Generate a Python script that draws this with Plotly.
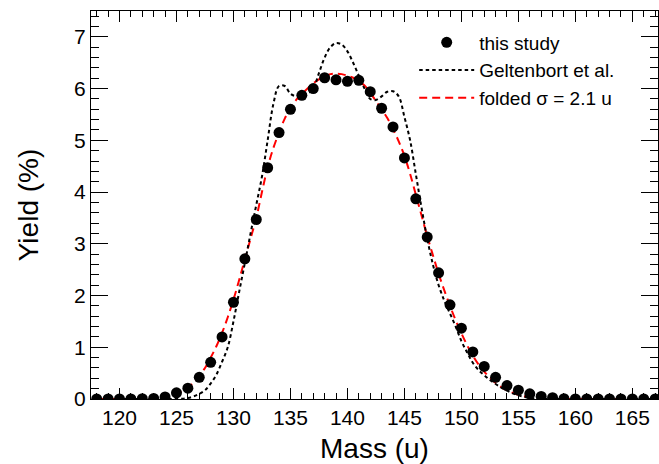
import plotly.graph_objects as go

# this study (data points)
mass_pts = list(range(118, 168))
yield_pts = [0.0, 0.0, 0.0, 0.0, 0.005, 0.01, 0.04, 0.12, 0.21, 0.42,
             0.71, 1.20, 1.87, 2.71, 3.47, 4.47, 5.15, 5.60, 5.87, 6.00,
             6.21, 6.17, 6.14, 6.16, 5.94, 5.62, 5.26, 4.66, 3.87, 3.13,
             2.44, 1.82, 1.37, 0.91, 0.63, 0.42, 0.26, 0.17, 0.10, 0.05,
             0.025, 0.005, 0.0, 0.0, 0.0, 0.0, 0.0, 0.0, 0.0, 0.0]

# Geltenbort et al. (0.5 u grid)
mass_gel = [118 + 0.5 * i for i in range(99)]
yield_gel = [0.0] * 14 + [
    0.0, 0.005, 0.02, 0.05, 0.1, 0.17, 0.3, 0.47, 0.72, 1.0,       # 125-129.5
    1.5, 2.07, 2.63, 3.2, 3.75, 4.3, 5.0, 5.7, 6.05, 6.05,          # 130-134.5
    5.9, 5.85, 5.86, 5.9, 6.0, 6.3, 6.6, 6.8, 6.88, 6.85,           # 135-139.5
    6.72, 6.5, 6.25, 6.0, 5.8, 5.78, 5.85, 5.94, 5.95, 5.85,        # 140-144.5
    5.45, 5.0, 4.35, 3.7, 3.1, 2.6, 2.2, 1.9, 1.65, 1.4,            # 145-149.5
    1.12, 0.9, 0.7, 0.56, 0.46, 0.37, 0.29, 0.22, 0.16, 0.11,       # 150-154.5
    0.07, 0.04, 0.02, 0.01, 0.0] + [0.0] * 20

# folded sigma = 2.1 u (0.5 u grid)
mass_fold = [118 + 0.5 * i for i in range(99)]
yield_fold = [0.0] * 11 + [
    0.01, 0.03, 0.06, 0.1, 0.15, 0.22, 0.32, 0.45, 0.6, 0.8,        # 123.5-128
    1.02, 1.28, 1.58, 1.92, 2.3, 2.7, 3.1, 3.5, 4.0, 4.48,          # 128.5-133
    4.85, 5.15, 5.42, 5.62, 5.78, 5.9, 6.0, 6.1, 6.18, 6.24,        # 133.5-138
    6.28, 6.29, 6.28, 6.25, 6.21, 6.14, 6.06, 5.92, 5.76, 5.6,      # 138.5-143
    5.43, 5.22, 4.98, 4.7, 4.35, 3.95, 3.55, 3.15, 2.78, 2.42,      # 143.5-148
    2.1, 1.8, 1.52, 1.27, 1.04, 0.84, 0.67, 0.53, 0.41, 0.31,       # 148.5-153
    0.23, 0.17, 0.12, 0.08, 0.055, 0.035, 0.02, 0.012, 0.005, 0.0] + [0.0] * 18

FONT = "Liberation Sans, Arial, Helvetica, sans-serif"

fig = go.Figure()
fig.add_trace(go.Scatter(x=mass_fold, y=yield_fold, mode="lines", name="folded σ = 2.1 u",
                         line=dict(color="#ff0000", width=2, dash="8px,5px", shape="spline")))
fig.add_trace(go.Scatter(x=mass_gel, y=yield_gel, mode="lines", name="Geltenbort et al.",
                         line=dict(color="black", width=2, dash="3.5px,3px", shape="spline")))
fig.add_trace(go.Scatter(x=mass_pts, y=yield_pts, mode="markers", name="this study",
                         marker=dict(color="black", size=11, symbol="circle")))

fig.update_layout(
    width=659, height=464,
    margin=dict(l=91, r=1, t=11, b=65),
    paper_bgcolor="white", plot_bgcolor="white",
    font=dict(family=FONT, color="black"),
    showlegend=True,
    legend=dict(x=0.57, y=0.968, xanchor="left", yanchor="top",
                traceorder="reversed", font=dict(size=19, family=FONT),
                bgcolor="rgba(0,0,0,0)", itemwidth=55, tracegroupgap=0),
    xaxis=dict(range=[117.5, 167.25], showline=True, linecolor="black", linewidth=1,
               mirror="ticks", ticks="inside", ticklen=11, tickcolor="black",
               dtick=5, tick0=120, showgrid=False, zeroline=False, automargin=False,
               tickfont=dict(size=21, family=FONT),
               minor=dict(ticks="inside", ticklen=6, dtick=1, tickcolor="black", showgrid=False),
               title=dict(text="Mass (u)", font=dict(size=28, family=FONT), standoff=16)),
    yaxis=dict(range=[0, 7.5], showline=True, linecolor="black", linewidth=1,
               mirror="ticks", ticks="inside", ticklen=17, tickcolor="black",
               dtick=1, tick0=0, showgrid=False, zeroline=False, automargin=False,
               tickfont=dict(size=21, family=FONT),
               minor=dict(ticks="inside", ticklen=8, dtick=0.2, tickcolor="black", showgrid=False),
               title=dict(text="Yield (%)", font=dict(size=28, family=FONT), standoff=27)),
)

fig.write_html("out.html")
